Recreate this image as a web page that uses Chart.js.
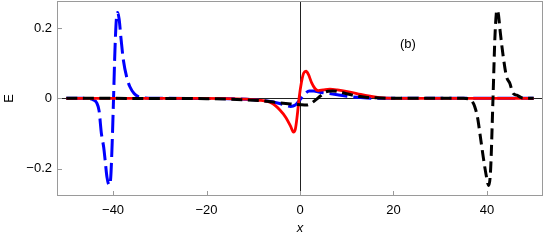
<!DOCTYPE html>
<html>
<head>
<meta charset="utf-8">
<script src="https://cdn.jsdelivr.net/npm/chart.js@4.4.1/dist/chart.umd.min.js"></script>
<style>
  html, body { margin: 0; padding: 0; background: #fff; overflow: hidden; }
  canvas { display: block; }
</style>
</head>
<body>
<canvas id="c" width="545" height="243"></canvas>
<script>
// 値は画像から読み取り (x, E)
const blueX = [-50, -46, -45, -44.3, -43.5, -43, -42.5, -42, -41.7, -41.3, -40.8, -40.5, -40.2, -39.9, -39.6, -39.3, -39.0, -38.7, -38.3, -37.8, -37.1, -36.4, -35.5, -34.6, -33, -30, -15, -10, -6, -4, -2, -1, 0, 1, 2, 3, 4, 6, 8, 10, 13, 16, 50];
const blueE = [0, 0, -0.001, -0.004, -0.013, -0.035, -0.1, -0.14, -0.176, -0.225, -0.247, -0.225, -0.13, 0, 0.137, 0.225, 0.244, 0.225, 0.17, 0.109, 0.061, 0.033, 0.014, 0.005, 0.001, 0, -0.001, -0.004, -0.01, -0.016, -0.023, -0.019, -0.004, 0.012, 0.021, 0.021, 0.018, 0.014, 0.01, 0.006, 0.002, 0, 0];

const redX = [-50, -20, -12, -9, -6, -4.3, -3, -2, -1.4, -1, -0.6, -0.2, 0.3, 0.8, 1.3, 1.8, 2.5, 3.2, 3.9, 5, 6.4, 8, 10.7, 13, 15, 17, 20, 50];
const redE = [0, 0, -0.002, -0.005, -0.014, -0.033, -0.055, -0.08, -0.096, -0.088, -0.05, 0, 0.045, 0.072, 0.077, 0.068, 0.044, 0.028, 0.022, 0.024, 0.026, 0.024, 0.018, 0.011, 0.006, 0.002, 0, 0];

const blackX = [-50, -20, -12, -8, -5, -2, 0, 1.4, 2.5, 3.5, 4.3, 5.2, 6, 7, 8.6, 10, 12, 14, 17, 20, 35, 36.4, 37, 37.4, 38, 38.5, 39.2, 39.9, 40.4, 40.8, 41.3, 41.7, 42.0, 42.2, 42.5, 42.8, 43.5, 44.2, 44.9, 45.6, 46.4, 47.4, 48.5, 50];
const blackE = [0, -0.001, -0.004, -0.007, -0.012, -0.016, -0.018, -0.019, -0.013, -0.003, 0.006, 0.016, 0.02, 0.021, 0.018, 0.013, 0.007, 0.003, 0.001, 0, 0, -0.003, -0.012, -0.024, -0.055, -0.1, -0.166, -0.223, -0.248, -0.2, 0, 0.17, 0.24, 0.251, 0.235, 0.195, 0.118, 0.061, 0.043, 0.014, 0.009, 0.002, 0, 0];

const xTicks = [-40, -20, 0, 20, 40];
const yTicks = [-0.2, 0, 0.2];
const xTickLabels = ['\u221240', '\u221220', '0', '20', '40'];
const yTickLabels = ['\u22120.2', '0', '0.2'];

const FONT = 'Liberation Sans';

function pts(xs, ys) {
    return xs.map((v, i) => ({ x: v, y: ys[i] }));
}

// 枠線・内向き目盛り・原点の軸
const framePlugin = {
    id: 'frame',
    beforeDatasetsDraw(chart) {
        const { ctx, chartArea: a, scales: { x, y } } = chart;
        const x0 = x.getPixelForValue(0), y0 = y.getPixelForValue(0);
        ctx.save();
        ctx.strokeStyle = '#222';
        ctx.lineWidth = 1;
        ctx.beginPath();
        ctx.moveTo(a.left, Math.round(y0) + 0.5);
        ctx.lineTo(a.right, Math.round(y0) + 0.5);
        ctx.moveTo(Math.round(x0) + 0.5, a.top);
        ctx.lineTo(Math.round(x0) + 0.5, a.bottom);
        ctx.stroke();
        ctx.restore();
    },
    afterDraw(chart) {
        const { ctx, chartArea: a, scales: { x, y } } = chart;
        ctx.save();
        ctx.strokeStyle = '#9a9a9a';
        ctx.lineWidth = 1;
        ctx.strokeRect(a.left + 0.5, a.top + 0.5, a.right - a.left - 1, a.bottom - a.top - 1);
        ctx.beginPath();
        xTicks.forEach(v => {
            const px = Math.round(x.getPixelForValue(v)) + 0.5;
            ctx.moveTo(px, a.bottom);
            ctx.lineTo(px, a.bottom - 5);
        });
        yTicks.forEach(v => {
            const py = Math.round(y.getPixelForValue(v)) + 0.5;
            ctx.moveTo(a.left, py);
            ctx.lineTo(a.left + 5, py);
        });
        ctx.stroke();
        // パネルラベル
        ctx.fillStyle = '#000';
        ctx.font = '13px "' + FONT + '"';
        ctx.textAlign = 'center';
        ctx.textBaseline = 'middle';
        ctx.fillText('(b)', x.getPixelForValue(23.1), y.getPixelForValue(0.154));
        ctx.restore();
    }
};

const ctx = document.getElementById('c').getContext('2d');
new Chart(ctx, {
    type: 'line',
    data: {
        datasets: [
            {
                label: 'black',
                data: pts(blackX, blackE),
                borderColor: '#000',
                borderWidth: 3,
                borderDash: [11, 5.5],
                pointRadius: 0,
                cubicInterpolationMode: 'monotone'
            },
            {
                label: 'red',
                data: pts(redX, redE),
                borderColor: '#ff0000',
                borderWidth: 2.8,
                pointRadius: 0,
                cubicInterpolationMode: 'monotone'
            },
            {
                label: 'blue',
                data: pts(blueX, blueE),
                borderColor: '#0000ff',
                borderWidth: 3,
                borderDash: [18, 6],
                pointRadius: 0,
                cubicInterpolationMode: 'monotone'
            }
        ]
    },
    options: {
        responsive: false,
        animation: false,
        maintainAspectRatio: false,
        layout: { padding: { top: 1, right: 2, left: 0, bottom: 0 } },
        plugins: {
            legend: { display: false },
            tooltip: { enabled: false }
        },
        scales: {
            x: {
                type: 'linear',
                min: -52, max: 52,
                afterBuildTicks: s => { s.ticks = xTicks.map(v => ({ value: v })); },
                afterFit: s => { s.height = 47; s.paddingLeft = 0; s.paddingRight = 0; },
                ticks: {
                    color: '#000',
                    font: { family: FONT, size: 13 },
                    padding: 7,
                    maxRotation: 0,
                    callback: (v) => xTickLabels[xTicks.indexOf(v)]
                },
                grid: { display: false, drawTicks: false },
                border: { display: false },
                title: {
                    display: true, text: 'x', color: '#000',
                    font: { family: FONT, size: 13, style: 'italic' },
                    padding: { top: 0, bottom: 7 }
                }
            },
            y: {
                type: 'linear',
                min: -0.278, max: 0.277,
                afterBuildTicks: s => { s.ticks = yTicks.map(v => ({ value: v })); },
                afterFit: s => { s.width = 57; s.paddingTop = 0; s.paddingBottom = 0; },
                ticks: {
                    color: '#000',
                    font: { family: FONT, size: 13 },
                    padding: 5,
                    callback: (v) => yTickLabels[yTicks.indexOf(v)]
                },
                grid: { display: false, drawTicks: false },
                border: { display: false },
                title: {
                    display: true, text: 'E', color: '#000',
                    font: { family: FONT, size: 13 },
                    padding: { top: 2, bottom: 0 }
                }
            }
        }
    },
    plugins: [framePlugin]
});
</script>
</body>
</html>
